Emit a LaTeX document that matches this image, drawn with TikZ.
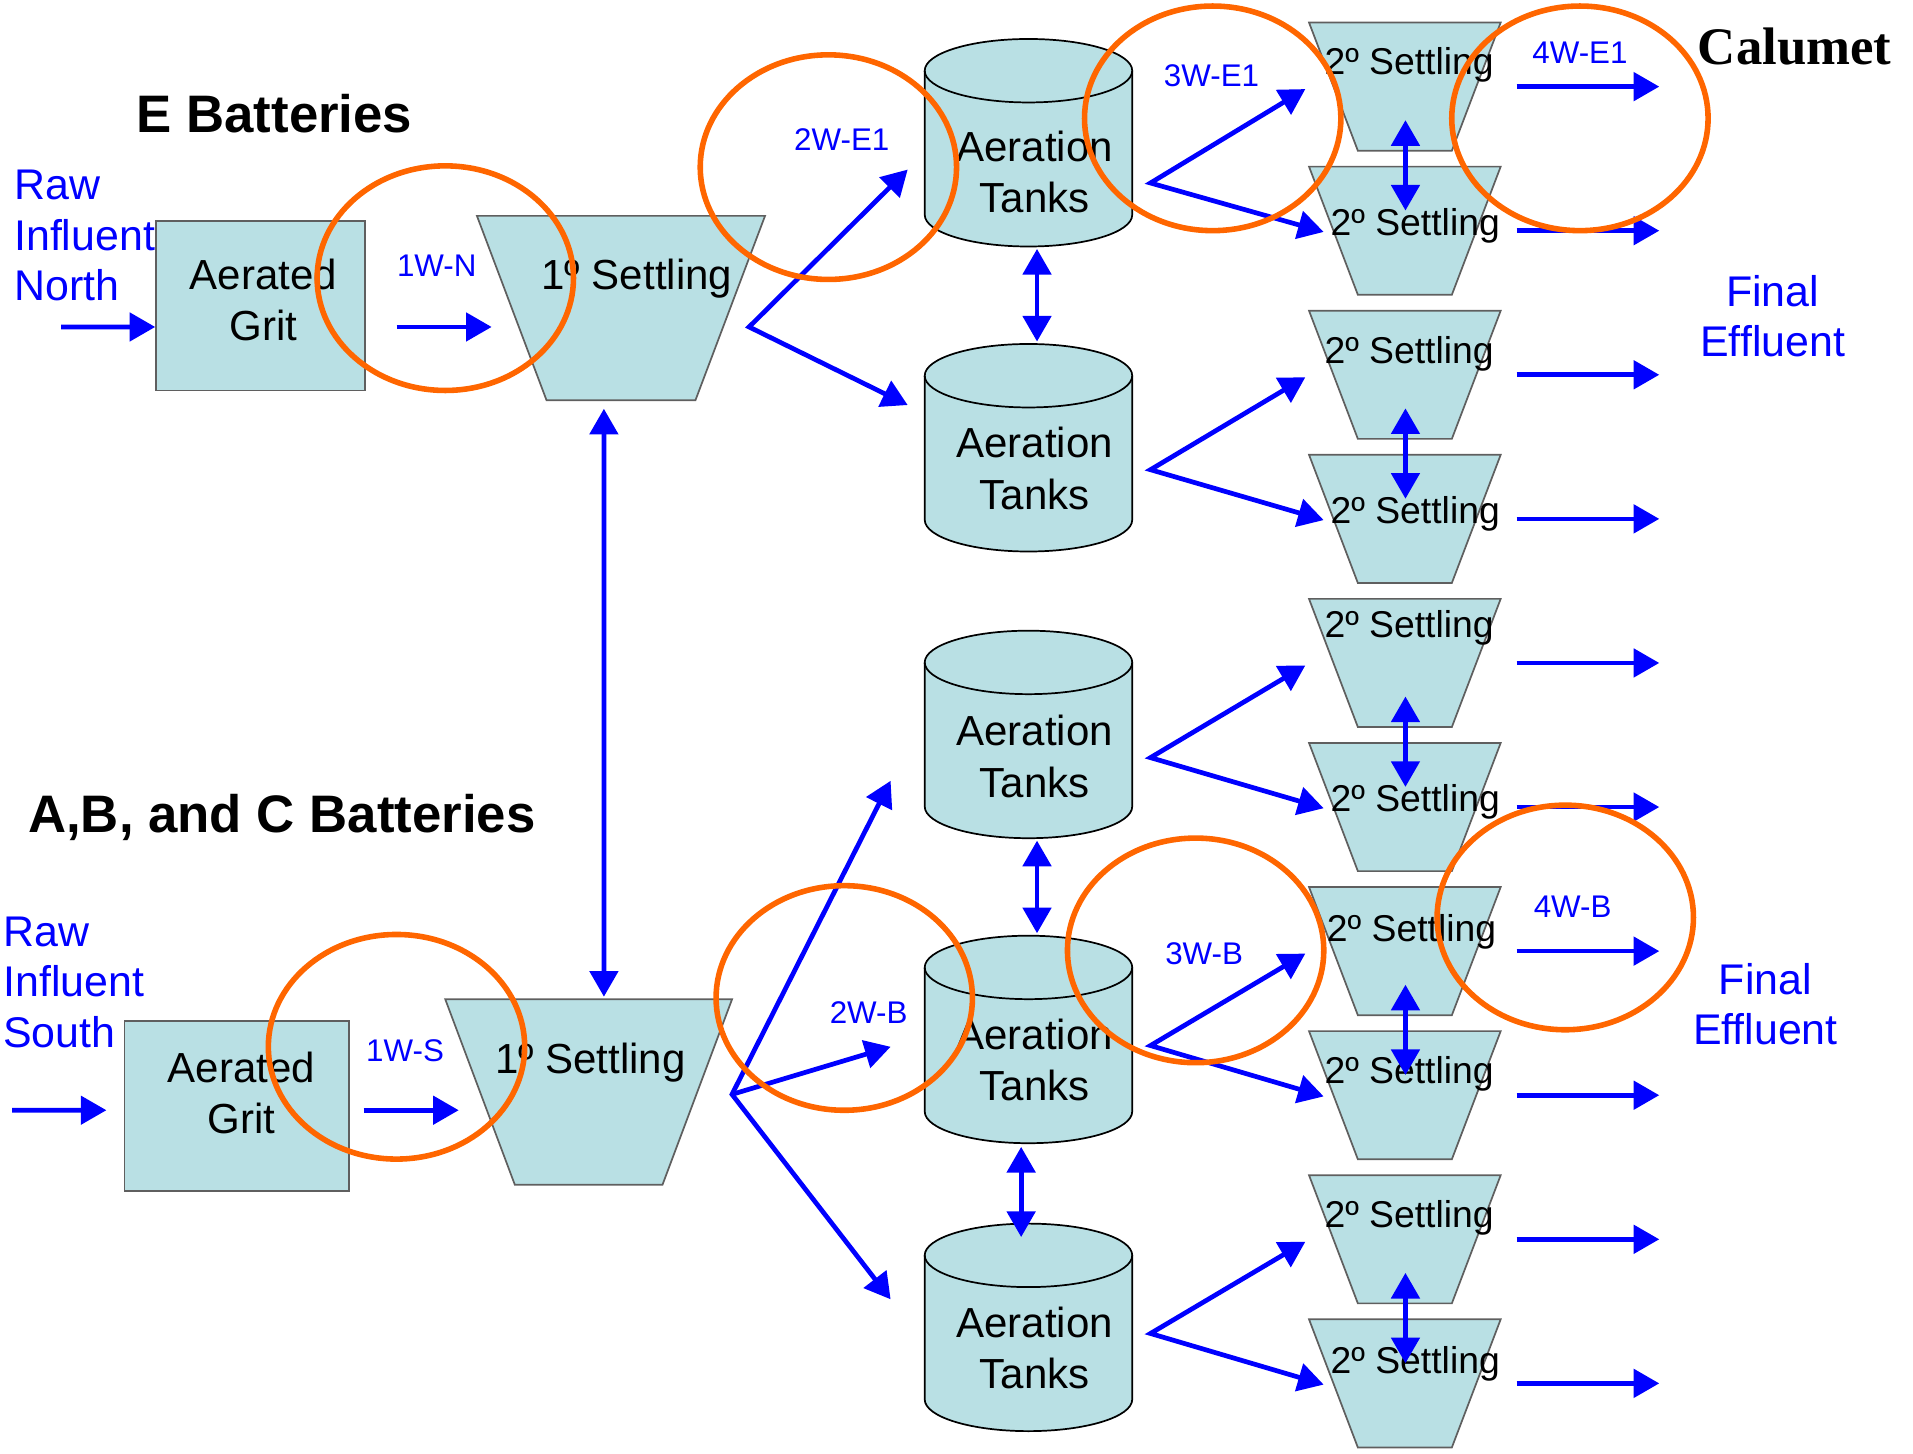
\documentclass[tikz,border=0pt]{standalone}
\usepackage{fontspec}
\setmainfont{Liberation Sans}
\newfontfamily\calfont{Liberation Serif}
\usetikzlibrary{arrows.meta}
\definecolor{tankc}{RGB}{185,224,228}
\definecolor{flowc}{RGB}{0,0,255}
\definecolor{ringc}{RGB}{255,102,0}
\definecolor{edgec}{RGB}{95,95,95}

\begin{document}
\begin{tikzpicture}[x=0.01cm,y=-0.01cm,
  flow/.style={flowc,line width=1.1pt,-{Triangle[length=2.1mm,width=2.3mm]}},
  flowboth/.style={flowc,line width=1.1pt,{Triangle[length=2.1mm,width=2.3mm]}-{Triangle[length=2.1mm,width=2.3mm]}},
  ring/.style={ringc,line width=1.3pt},
  tag/.style={text=flowc,inner sep=0pt,font=\fontsize{7.3}{8}\selectfont},
  maintext/.style={inner sep=0pt,align=center,font=\fontsize{9.8}{12}\selectfont},
  sectext/.style={inner sep=0pt,yshift=-0.3mm,font=\fontsize{8.7}{10}\selectfont},
  inftext/.style={text=flowc,inner sep=0pt,align=left,font=\fontsize{10}{11.8}\selectfont},
  efftext/.style={text=flowc,inner sep=0pt,align=center,font=\fontsize{10}{11.8}\selectfont},
  headtext/.style={inner sep=0pt,font=\fontsize{12.3}{14}\selectfont\bfseries},
  gritbox/.style={draw=edgec,fill=tankc,minimum height=1.39cm,inner sep=0pt},
  holder/.style={inner sep=0pt,outer sep=0pt}]
\useasboundingbox (0,0) rectangle (1568,1191);

% headings
\node[headtext] (hE) at (225,93) {E Batteries};
\node[headtext] (hABC) at (231,670) {A,B, and C Batteries};
\node[inner sep=0pt,font=\fontsize{12.3}{14}\calfont\bfseries] (hCal) at (1471,38) {Calumet};
\node[inftext,anchor=west] (rawN) at (11,193) {Raw\\Influent\\North};
\node[inftext,anchor=west] (rawS) at (2,805) {Raw\\Influent\\South};
\node[efftext] (effN) at (1453,259) {Final\\Effluent};
\node[efftext] (effS) at (1447,823) {Final\\Effluent};

% grit chambers
\node[gritbox,minimum width=1.71cm] (gritN) at (213.5,250.5) {};
\node[gritbox,minimum width=1.84cm] (gritS) at (194,906.5) {};
\node[maintext] (gritNt) at (216,246) {Aerated\\Grit};
\node[maintext] (gritSt) at (198,896) {Aerated\\Grit};

% primary settling
\node[holder,minimum width=2.36cm,minimum height=1.51cm] (setN) at (509,252.5) {};
\node[holder,minimum width=2.35cm,minimum height=1.52cm] (setS) at (482.5,895) {};
\foreach \n in {setN,setS}
  \draw[edgec,fill=tankc] (\n.north west) -- (\n.north east) -- ([xshift=-5.7mm]\n.south east)
    -- ([xshift=5.7mm]\n.south west) -- cycle;
\node[maintext] (setNt) at (522,228) {1º Settling};
\node[maintext] (setSt) at (484,871) {1º Settling};

% aeration tanks
\foreach \n/\cy in {E1/117,E2/367,B1/602,B2/852,B3/1088} {
  \node[holder,minimum width=1.7cm,minimum height=1.7cm] (tank\n) at (843,\cy) {};
  \draw[black,fill=tankc] ([yshift=-2.6mm]tank\n.north west) -- ([yshift=2.6mm]tank\n.south west)
    arc[start angle=180,end angle=360,x radius=8.5mm,y radius=2.6mm]
    -- ([yshift=-2.6mm]tank\n.north east)
    arc[start angle=0,end angle=180,x radius=8.5mm,y radius=2.6mm] -- cycle;
  \draw[black] ([yshift=-2.6mm]tank\n.north west)
    arc[start angle=180,end angle=360,x radius=8.5mm,y radius=2.6mm];
}
\foreach \n/\ty in {E1/141,E2/384,B1/620,B2/869,B3/1105}
  \node[maintext] (tank\n t) at (848,\ty) {Aeration\\Tanks};

% secondary settling
\foreach \k/\tx/\ty in {0/1155/50,1/1160/182,2/1155/287,3/1160/418,4/1155/512,
                        5/1160/654,6/1157/761,7/1155/877,8/1155/995,9/1160/1115} {
  \node[holder,minimum width=1.57cm,minimum height=1.05cm] (sec\k) at (1151.5,{71+118.1*\k}) {};
  \draw[edgec,fill=tankc] (sec\k.north west) -- (sec\k.north east) -- ([xshift=-4mm]sec\k.south east)
    -- ([xshift=4mm]sec\k.south west) -- cycle;
  \node[sectext] (sec\k t) at (\tx,\ty) {2º Settling};
}

% flows
\draw[flow] (50,268) -- ([yshift=-1.75mm]gritN.west);
\draw[flow] (10,910) -- ([xshift=-1.4mm,yshift=-0.35mm]gritS.west);
\draw[flow] (325,268) -- (403,268);
\draw[flow] (298,910) -- (376,910);
\draw[flowboth] ([xshift=-1.4mm,yshift=-0.7mm]setN.south) -- ([xshift=1.25mm,yshift=0.2mm]setS.north);

\coordinate (vN) at (614,268);
\coordinate (vS) at (600,897);
\draw[flowboth] (744,139) -- (vN) -- (744,332);
\draw[flowboth] (730,640) -- (vS) -- (730,1065);
\draw[flow] (vS) -- (730,858);

\draw[flowboth] ([xshift=0.7mm,yshift=-0.2mm]tankE1.south) -- ([xshift=0.7mm,yshift=0.2mm]tankE2.north);
\draw[flowboth] ([xshift=0.7mm,yshift=-0.2mm]tankB1.south) -- ([xshift=0.7mm,yshift=0.2mm]tankB2.north);
\draw[flowboth] ([xshift=-0.6mm,yshift=-0.3mm]tankB2.south) -- ([xshift=-0.6mm,yshift=-1.1mm]tankB3.north);

\foreach \n/\vy/\a/\b in {E1/150/0/1,E2/385/2/3,B1/621/4/5,B2/857/6/7,B3/1093/8/9} {
  \coordinate (v\n) at (943,\vy);
  \draw[flowboth] ([xshift=-0.3mm,yshift=-0.2mm]sec\a.west) -- (v\n) -- ([xshift=1.2mm,yshift=-0.1mm]sec\b.west);
  \draw[flowboth] ([xshift=0.05mm,yshift=2.5mm]sec\a.south) -- ([xshift=0.05mm,yshift=-3.6mm]sec\b.north);
}
\foreach \k in {0,...,9}
  \draw[flow] ([xshift=1.3mm]sec\k.east) -- ++(117,0);

% sample points
\node[tag] (w1N) at (358,218) {1W-N};
\node[tag] (w2E) at (690,114) {2W-E1};
\node[tag] (w3E) at (993,62) {3W-E1};
\node[tag] (w4E) at (1295,43) {4W-E1};
\node[tag] (w1S) at (332,861) {1W-S};
\node[tag] (w2B) at (712,830) {2W-B};
\node[tag] (w3B) at (987,782) {3W-B};
\node[tag] (w4B) at (1289,743) {4W-B};
\foreach \cx/\cy in {365/228,679/137,994/97,1295/97,325/858,692/818,980/779,1283/752}
  \draw[ring] (\cx,\cy) ellipse [x radius=10.5mm,y radius=9.2mm];
\end{tikzpicture}
\end{document}
